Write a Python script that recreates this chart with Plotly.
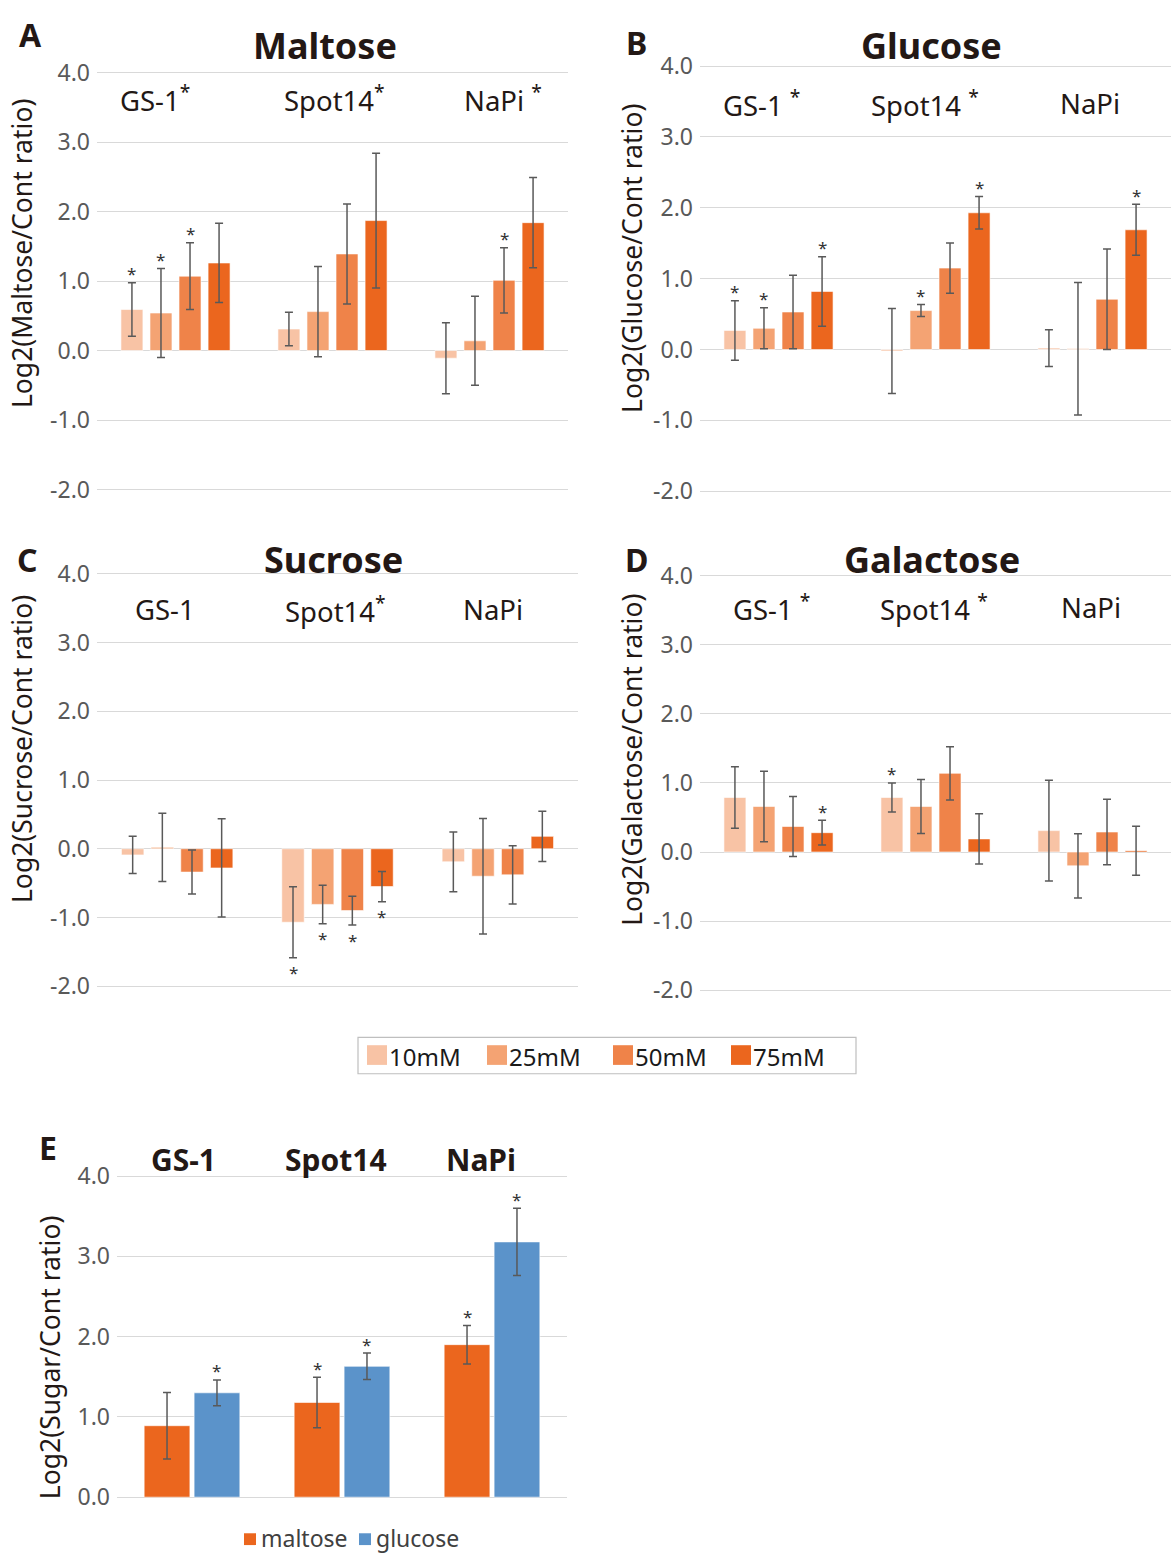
import plotly.graph_objects as go

W, H = 1171, 1562
FONT = "Noto Sans"
DARK = "#231815"
TICKC = "#595959"
GRID = "#D9D9D9"
ERRC = "#595959"

categories = ["GS-1", "Spot14", "NaPi"]
concentrations = ["10mM", "25mM", "50mM", "75mM"]
conc_colors = ["#F8C3A5", "#F4A373", "#EF8349", "#EB661E"]

# rows = concentration (10, 25, 50, 75 mM), columns = GS-1, Spot14, NaPi
maltose_vals = [[0.59, 0.31, -0.11], [0.54, 0.56, 0.14], [1.07, 1.39, 1.01], [1.26, 1.87, 1.84]]
maltose_err = [[0.385, 0.24, 0.51], [0.64, 0.65, 0.64], [0.48, 0.72, 0.47], [0.57, 0.97, 0.65]]
maltose_sig = [[1, 0, 0], [1, 0, 0], [1, 0, 1], [0, 0, 0]]

glucose_vals = [[0.27, -0.02, 0.02], [0.30, 0.55, 0.01], [0.53, 1.15, 0.71], [0.82, 1.93, 1.69]]
glucose_err = [[0.42, 0.60, 0.26], [0.29, 0.085, 0.935], [0.52, 0.355, 0.71], [0.49, 0.23, 0.36]]
glucose_sig = [[1, 0, 0], [1, 1, 0], [0, 0, 0], [1, 1, 1]]

sucrose_vals = [[-0.09, -1.07, -0.19], [0.02, -0.81, -0.40], [-0.34, -0.90, -0.38], [-0.28, -0.55, 0.18]]
sucrose_err = [[0.27, 0.515, 0.435], [0.495, 0.28, 0.84], [0.32, 0.21, 0.425], [0.715, 0.22, 0.365]]
sucrose_sig = [[0, 1, 0], [0, 1, 0], [0, 1, 0], [0, 1, 0]]

galactose_vals = [[0.79, 0.79, 0.31], [0.66, 0.66, -0.20], [0.37, 1.14, 0.29], [0.28, 0.19, 0.02]]
galactose_err = [[0.445, 0.21, 0.73], [0.51, 0.39, 0.465], [0.435, 0.385, 0.475], [0.18, 0.365, 0.355]]
galactose_sig = [[0, 1, 0], [0, 0, 0], [0, 0, 0], [1, 0, 0]]

sugars_E = ["maltose", "glucose"]
sugar_colors = ["#EB661E", "#5B93CA"]
E_vals = [[0.89, 1.18, 1.90], [1.30, 1.63, 3.18]]
E_err = [[0.415, 0.315, 0.24], [0.16, 0.165, 0.42]]
E_sig = [[0, 1, 1], [1, 1, 1]]

yticks_main = [-2, -1, 0, 1, 2, 3, 4]
yticks_E = [0, 1, 2, 3, 4]

panel_titles = ["Maltose", "Glucose", "Sucrose", "Galactose"]
panel_letters = ["A", "B", "C", "D", "E"]
ytitles = ["Log2(Maltose/Cont ratio)", "Log2(Glucose/Cont ratio)",
           "Log2(Sucrose/Cont ratio)", "Log2(Galactose/Cont ratio)",
           "Log2(Sugar/Cont ratio)"]
cat_labels = [
    ["GS-1<sup>*</sup>", "Spot14<sup>*</sup>", "NaPi <sup>*</sup>"],
    ["GS-1 <sup>*</sup>", "Spot14 <sup>*</sup>", "NaPi"],
    ["GS-1", "Spot14<sup>*</sup>", "NaPi"],
    ["GS-1 <sup>*</sup>", "Spot14 <sup>*</sup>", "NaPi"],
    ["<b>GS-1</b>", "<b>Spot14</b>", "<b>NaPi</b>"],
]

# ---------------- layout geometry (pixels) ----------------
def px(x):
    return x / W

def py(y):
    return 1 - y / H

def ydom(py_top, v_top, py_bot, v_bot, rng):
    ppu = (py_bot - py_top) / (v_top - v_bot)
    top_px = py_top - (rng[1] - v_top) * ppu
    bot_px = py_bot + (v_bot - rng[0]) * ppu
    return [1 - bot_px / H, 1 - top_px / H]

rng_main = [-2.06, 4.06]
rng_E = [-0.04, 4.06]
panels = [
    dict(x=[97, 568], yd=ydom(60.5, 4, 484.3, -2, rng_main), rng=rng_main),
    dict(x=[700, 1171], yd=ydom(54, 4, 486, -2, rng_main), rng=rng_main),
    dict(x=[97, 578], yd=ydom(570, 4, 989, -2, rng_main), rng=rng_main),
    dict(x=[700, 1171], yd=ydom(572, 4, 993, -2, rng_main), rng=rng_main),
    dict(x=[117, 567], yd=ydom(1182, 4, 1508.3, 0, rng_E), rng=rng_E),
]

fig = go.Figure()
annotations = []
shapes = []

xpos = list(range(len(categories)))


def add_panel(k, vals, errs, sigs, colors, names, slot, width, star_up=9, star_dn=-15):
    xa = "x" if k == 0 else f"x{k+1}"
    ya = "y" if k == 0 else f"y{k+1}"
    n = len(vals)
    for i in range(n):
        center = (i - (n - 1) / 2) * slot
        fig.add_trace(go.Bar(
            x=xpos, y=vals[i], name=names[i], xaxis=xa, yaxis=ya,
            width=width, offset=center - width / 2,
            marker=dict(color=colors[i], line=dict(color="rgba(255,255,255,0.6)", width=1)),
            error_y=dict(type="data", array=errs[i], visible=True,
                         color=ERRC, thickness=1.5, width=4),
            showlegend=False,
        ))
        for j in range(len(xpos)):
            if sigs[i][j]:
                v, e = vals[i][j], errs[i][j]
                if v >= 0:
                    yv, ys = v + e, star_up
                else:
                    yv, ys = v - e, star_dn
                annotations.append(dict(
                    x=xpos[j] + center, y=yv, xref=xa, yref=ya, text="*",
                    showarrow=False, yshift=ys, xanchor="center", yanchor="middle",
                    font=dict(family=FONT, size=17, color="#333333")))


slotA, wA = 0.185, 0.14
add_panel(0, maltose_vals, maltose_err, maltose_sig, conc_colors, concentrations, slotA, wA)
add_panel(1, glucose_vals, glucose_err, glucose_sig, conc_colors, concentrations, slotA, wA)
add_panel(2, sucrose_vals, sucrose_err, sucrose_sig, conc_colors, concentrations, slotA, wA)
add_panel(3, galactose_vals, galactose_err, galactose_sig, conc_colors, concentrations, slotA, wA)
add_panel(4, E_vals, E_err, E_sig, sugar_colors, sugars_E, 0.333, 0.305)

layout = dict(
    width=W, height=H, margin=dict(l=0, r=0, t=0, b=0, pad=0),
    paper_bgcolor="white", plot_bgcolor="white",
    barmode="overlay", showlegend=False,
    font=dict(family=FONT, color=DARK),
)

for k, p in enumerate(panels):
    sx = "" if k == 0 else str(k + 1)
    ticks = yticks_E if k == 4 else yticks_main
    layout["xaxis" + sx] = dict(
        domain=[px(p["x"][0]), px(p["x"][1])], range=[-0.5, len(categories) - 0.5],
        anchor="y" + sx, showticklabels=False, showgrid=False, zeroline=False,
        showline=False, ticks="", fixedrange=True)
    layout["yaxis" + sx] = dict(
        domain=p["yd"], range=p["rng"], anchor="x" + sx,
        tickvals=ticks, ticktext=[f"{t:.1f}" for t in ticks],
        tickfont=dict(family=FONT, size=23, color=TICKC),
        showgrid=True, gridcolor=GRID, gridwidth=1.2, zeroline=False,
        showline=False, ticks="", ticklabelstandoff=6)

fig.update_layout(**layout)


def ann(x, y, text, size, color=DARK, xanchor="center", angle=0):
    annotations.append(dict(x=px(x), y=py(y), xref="paper", yref="paper", text=text,
                            showarrow=False, xanchor=xanchor, yanchor="middle",
                            textangle=angle, font=dict(family=FONT, size=size, color=color)))


title_pos = [(325, 33), (931, 33), (333, 555), (932, 555)]
for t, (x, y) in zip(panel_titles, title_pos):
    ann(x, y, f"<b>{t}</b>", 36)

letter_pos = [(30, 22), (636, 30), (27, 555), (636, 555), (47.5, 1153)]
for t, (x, y) in zip(panel_letters, letter_pos):
    ann(x, y, f"<b>{t}</b>", 32)

ytitle_pos = [(22, 245), (632, 250), (22, 748), (632, 759), (50, 1366)]
for t, (x, y) in zip(ytitles, ytitle_pos):
    ann(x, y, t, 26.5, angle=-90)

cat_pos = [
    ([155, 334, 503], 87),
    ([761, 925, 1090], 92),
    ([165, 335, 493], 606),
    ([771, 934, 1091], 604),
    ([183, 336, 481], 1165),
]
for k, (xs, y) in enumerate(cat_pos):
    for lab, x in zip(cat_labels[k], xs):
        ann(x, y, lab, 30 if k == 4 else 27.5)

# legend for concentrations (boxed)
shapes.append(dict(type="rect", xref="paper", yref="paper", x0=px(358), x1=px(856),
                   y0=py(1078), y1=py(1041), line=dict(color="#BFBFBF", width=1.2),
                   fillcolor="white", layer="below"))
leg_x = [367, 487, 613, 731]
for name, col, x in zip(concentrations, conc_colors, leg_x):
    shapes.append(dict(type="rect", xref="paper", yref="paper", x0=px(x), x1=px(x + 20),
                       y0=py(1069), y1=py(1049), line=dict(width=0), fillcolor=col))
    ann(x + 20, 1060, name, 24, color="#1A1A1A", xanchor="left")

# legend for panel E
legE_x = [244, 359]
for name, col, x in zip(sugars_E, sugar_colors, legE_x):
    shapes.append(dict(type="rect", xref="paper", yref="paper", x0=px(x), x1=px(x + 12),
                       y0=py(1557), y1=py(1545), line=dict(width=0), fillcolor=col))
    ann(x + 15, 1550, name, 23, color="#404040", xanchor="left")

fig.update_layout(annotations=annotations, shapes=shapes)

post_js = ("document.body.style.margin='0';document.body.style.padding='0';"
           "document.documentElement.style.margin='0';"
           "var d=document.getElementById('{plot_id}');"
           "d.style.position='absolute';d.style.left='0px';d.style.top='0px';")
fig.write_html("out.html", post_script=post_js, config={"displayModeBar": False})
